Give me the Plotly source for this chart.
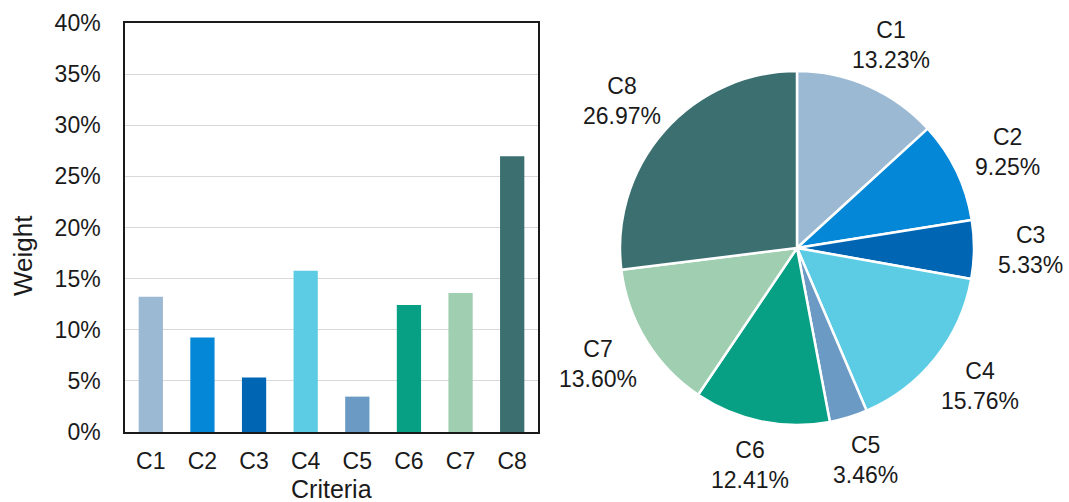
import math
import plotly.graph_objects as go

# Criteria weights (percent)
criteria = ["C1", "C2", "C3", "C4", "C5", "C6", "C7", "C8"]
weights = [13.23, 9.25, 5.33, 15.76, 3.46, 12.41, 13.60, 26.97]
colors = ["#9cb9d3", "#0387d6", "#0066b3", "#5ccce4",
          "#6b9ac5", "#07a084", "#a0ceb0", "#3b6f70"]
y_ticks = [0, 5, 10, 15, 20, 25, 30, 35, 40]

FONT = "Liberation Sans, Arial, sans-serif"
TXT = "#1a1a1a"
W, H = 1069, 502

# pie placement in pixels (center and radius) and label ellipse radii
PIE_CX, PIE_CY, PIE_R = 797, 248, 177
LABEL_RX, LABEL_RY = 234, 222

fig = go.Figure()

fig.add_trace(go.Bar(
    x=criteria, y=weights,
    marker=dict(color=colors, line=dict(width=0)),
    xaxis="x", yaxis="y", showlegend=False,
))

fig.add_trace(go.Pie(
    labels=criteria, values=weights,
    marker=dict(colors=colors, line=dict(color="white", width=2.5)),
    sort=False, direction="clockwise", rotation=0,
    textinfo="none",
    domain=dict(x=[(PIE_CX - PIE_R) / W, (PIE_CX + PIE_R) / W],
                y=[1 - (PIE_CY + PIE_R) / H, 1 - (PIE_CY - PIE_R) / H]),
    showlegend=False, hoverinfo="label+value",
))

# pie labels placed at each slice's mid-angle, outside the pie
total = sum(weights)
annotations = []
cum = 0.0
for name, w in zip(criteria, weights):
    mid = (cum + w / 2) / total * 2 * math.pi
    cum += w
    px = PIE_CX + LABEL_RX * math.sin(mid)
    py = PIE_CY - LABEL_RY * math.cos(mid)
    annotations.append(dict(
        x=px / W, y=1 - py / H, xref="paper", yref="paper",
        text=f"{name}<br>{w:.2f}%", showarrow=False,
        xanchor="center", yanchor="middle", align="center",
        font=dict(size=23, color=TXT, family=FONT),
    ))

# axis titles
annotations.append(dict(
    x=331.5 / W, y=1 - 489 / H, xref="paper", yref="paper",
    text="Criteria", showarrow=False, xanchor="center", yanchor="middle",
    font=dict(size=25, color=TXT, family=FONT),
))
annotations.append(dict(
    x=23 / W, y=1 - 256 / H, xref="paper", yref="paper",
    text="Weight", showarrow=False, textangle=-90,
    xanchor="center", yanchor="middle",
    font=dict(size=26, color=TXT, family=FONT),
))

fig.update_layout(
    width=W, height=H,
    margin=dict(l=0, r=0, t=0, b=0),
    paper_bgcolor="white", plot_bgcolor="white",
    font=dict(family=FONT, size=23, color=TXT),
    bargap=0.53,
    annotations=annotations,
    xaxis=dict(
        domain=[125 / W, 538 / W], automargin=False,
        showline=True, mirror=True, linecolor=TXT, linewidth=1.5,
        ticks="", ticklabelstandoff=8,
        tickfont=dict(size=23),
    ),
    yaxis=dict(
        domain=[1 - 432 / H, 1 - 23 / H], automargin=False,
        range=[0, 40], tickmode="array", tickvals=y_ticks,
        ticktext=[f"{t}%" for t in y_ticks],
        showline=True, mirror=True, linecolor=TXT, linewidth=1.5,
        showgrid=True, gridcolor="#d9d9d9", gridwidth=1.2,
        zeroline=False, ticks="", ticklabelstandoff=18,
        tickfont=dict(size=23),
    ),
)

fig.write_html("out.html")
